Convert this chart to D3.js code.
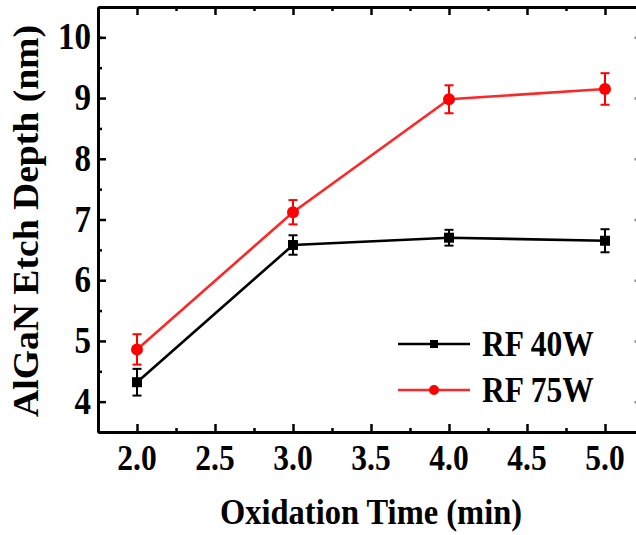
<!DOCTYPE html>
<html><head><meta charset="utf-8">
<script src="https://cdn.jsdelivr.net/npm/d3@7"></script>
<style>body{margin:0;background:#fff}svg{display:block}text{font-family:"Liberation Serif","Times New Roman",serif;font-weight:bold;fill:#000}</style>
</head><body><div id="chart"></div>
<script>
const times = [2.0, 3.0, 4.0, 5.0];
const rf40 = [4.32, 6.58, 6.70, 6.65];
const rf40Err = [0.22, 0.16, 0.13, 0.19];
const rf75 = [4.86, 7.12, 8.98, 9.15];
const rf75Err = [0.25, 0.20, 0.23, 0.26];
const xTicks = [2.0, 2.5, 3.0, 3.5, 4.0, 4.5, 5.0];
const xMinor = [2.25, 2.75, 3.25, 3.75, 4.25, 4.75];
const yTicks = [4, 5, 6, 7, 8, 9, 10];
const yMinor = [4.5, 5.5, 6.5, 7.5, 8.5, 9.5, 10];
const seriesNames = ["RF 40W", "RF 75W"];
const seriesColors = ["#000000", "#ff0000"];

const W = 636, H = 535;
const K = 1.13; // vertical stretch of the glyphs in the reference
const svg = d3.select("#chart").append("svg").attr("width", W).attr("height", H);
const x = d3.scaleLinear().domain([1.75, 5.25]).range([98, 644]);
const y = d3.scaleLinear().domain([3.5, 10.5]).range([432, 7]);

function label(px, py, str, size, anchor, k) {
  return svg.append("text")
    .attr("transform", `translate(${px},${py}) scale(1,${k || K})`)
    .attr("text-anchor", anchor || "start")
    .attr("font-size", size).text(str);
}

// axes (tick lines)
const gB = svg.append("g").attr("transform", `translate(0,${y(3.5)})`)
  .call(d3.axisBottom(x).tickValues(xTicks).tickFormat("").tickSizeInner(-8).tickSizeOuter(0));
const gBm = svg.append("g").attr("transform", `translate(0,${y(3.5)})`)
  .call(d3.axisBottom(x).tickValues(xMinor).tickFormat("").tickSizeInner(-4).tickSizeOuter(0));
const gT = svg.append("g").attr("transform", `translate(0,${y(10.5)})`)
  .call(d3.axisTop(x).tickValues(xTicks).tickFormat("").tickSizeInner(-8).tickSizeOuter(0));
const gTm = svg.append("g").attr("transform", `translate(0,${y(10.5)})`)
  .call(d3.axisTop(x).tickValues(xMinor).tickFormat("").tickSizeInner(-4).tickSizeOuter(0));
const gL = svg.append("g").attr("transform", `translate(${x(1.75)},0)`)
  .call(d3.axisLeft(y).tickValues(yTicks).tickFormat("").tickSizeInner(-8).tickSizeOuter(0));
const gLm = svg.append("g").attr("transform", `translate(${x(1.75)},0)`)
  .call(d3.axisLeft(y).tickValues(yMinor).tickFormat("").tickSizeInner(-4).tickSizeOuter(0));
const gR = svg.append("g").attr("transform", `translate(${x(5.25)},0)`)
  .call(d3.axisRight(y).tickValues(yTicks).tickFormat("").tickSizeInner(-9.5).tickSizeOuter(0));

[gB, gBm, gT, gTm, gL, gLm, gR].forEach(g => {
  g.select(".domain").attr("stroke", "#000").attr("stroke-width", 3);
  g.selectAll(".tick line").attr("stroke", "#000").attr("stroke-width", 2.5);
});
gR.selectAll(".tick line").attr("stroke", "#888");

// tick labels
const fmtX = d3.format(".1f");
xTicks.forEach(t => label(x(t), 470, fmtX(t), 31.5, "middle"));
yTicks.forEach(t => label(91, y(t) + 12, String(t), 33, "end"));

// series
const data = [
  {name: seriesNames[0], color: seriesColors[0], vals: rf40, errs: rf40Err, shape: "square"},
  {name: seriesNames[1], color: seriesColors[1], vals: rf75, errs: rf75Err, shape: "circle"}
];
const line = d3.line().x(d => x(d[0])).y(d => y(d[1]));
data.forEach(s => {
  const pts = times.map((t, i) => [t, s.vals[i], s.errs[i]]);
  const g = svg.append("g");
  g.append("path").attr("d", line(pts)).attr("fill", "none").attr("stroke", s.color).attr("stroke-width", 2.6).attr("stroke-opacity", s.shape === "circle" ? 0.85 : 1);
  pts.forEach(p => {
    const cx = x(p[0]), y1 = y(p[1] + p[2]), y2 = y(p[1] - p[2]);
    g.append("line").attr("x1", cx).attr("x2", cx).attr("y1", y1).attr("y2", y2).attr("stroke", s.color).attr("stroke-width", 2);
    [y1, y2].forEach(yy => g.append("line").attr("x1", cx - 4.5).attr("x2", cx + 4.5).attr("y1", yy).attr("y2", yy).attr("stroke", s.color).attr("stroke-width", 2));
    if (s.shape === "square") g.append("rect").attr("x", cx - 5).attr("y", y(p[1]) - 5).attr("width", 10).attr("height", 10).attr("fill", s.color);
    else g.append("circle").attr("cx", cx).attr("cy", y(p[1])).attr("r", 6).attr("fill", s.color);
  });
});

// legend
const legY = [344, 390];
data.forEach((s, i) => {
  const g = svg.append("g").attr("transform", `translate(0,${legY[i]})`);
  g.append("line").attr("x1", 398).attr("x2", 470).attr("y1", 0).attr("y2", 0).attr("stroke", s.color).attr("stroke-width", 2.6).attr("stroke-opacity", s.shape === "circle" ? 0.85 : 1);
  if (s.shape === "square") g.append("rect").attr("x", 430).attr("y", -4).attr("width", 8).attr("height", 8).attr("fill", s.color);
  else g.append("circle").attr("cx", 434).attr("cy", 0).attr("r", 5).attr("fill", s.color);
  label(482, legY[i] + 12, s.name, 31.5, "start", 1.15);
});

// axis titles
label(371, 524, "Oxidation Time (min)", 32.5, "middle", 1.1);
svg.append("text").attr("transform", "translate(38,221) rotate(-90)").attr("text-anchor", "middle").attr("font-size", 35)
  .attr("textLength", 392).attr("lengthAdjust", "spacingAndGlyphs").text("AlGaN Etch Depth (nm)");
</script></body></html>
